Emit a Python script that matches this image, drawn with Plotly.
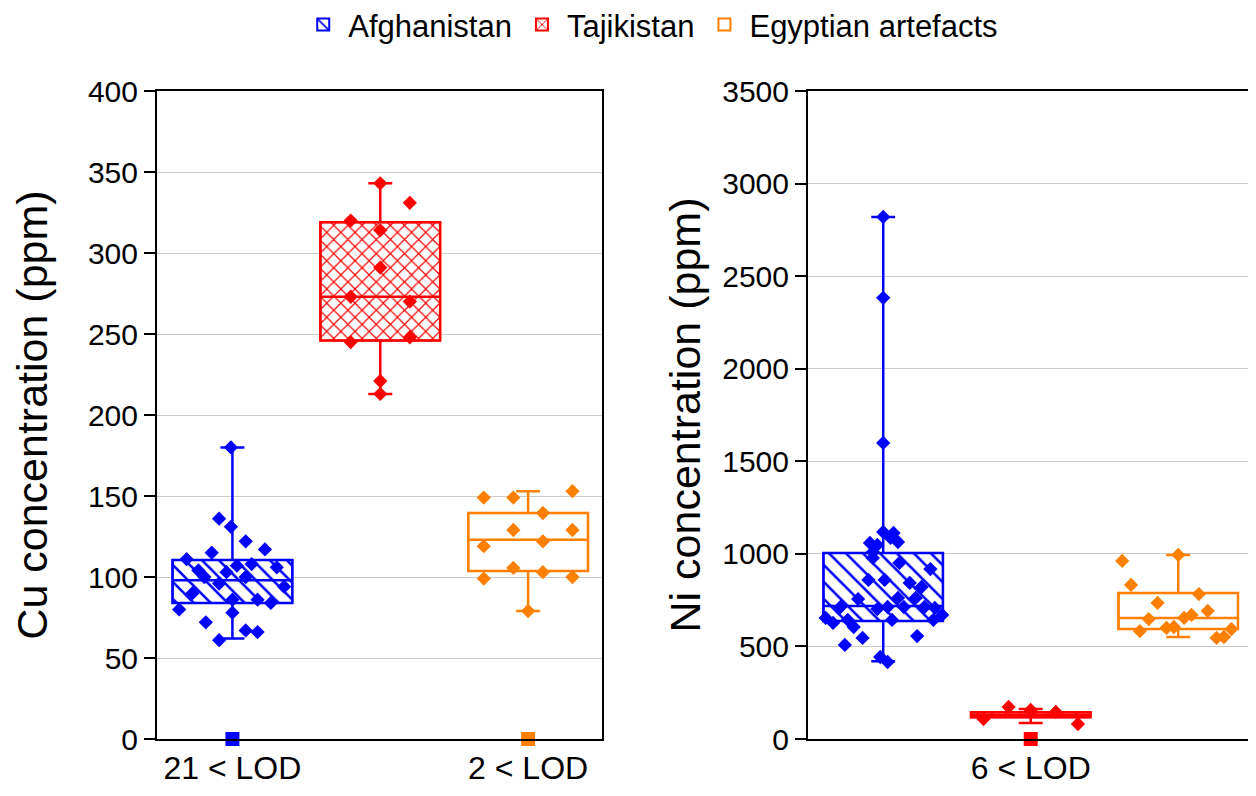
import plotly.graph_objects as go

groups = ["Afghanistan", "Tajikistan", "Egyptian artefacts"]
colors = ["#0000ff", "#ff0000", "#ff7f00"]
patterns = ["\\", "x", ""]
positions = [1, 2, 3]

# box statistics: q1, median, q3, lower whisker, upper whisker
cu_q1 = [84, 246, 103.7]
cu_median = [98, 273, 123]
cu_q3 = [110.5, 319, 139.5]
cu_low = [62, 213, 79]
cu_high = [180, 343, 153]

ni_q1 = [637, 117, 594]
ni_median = [718, 130, 653]
ni_q3 = [1005, 145, 788]
ni_low = [420, 86, 551]
ni_high = [2820, 162, 994]

# individual measurements (x offset from group centre, value)
cu_afg_off = [-0.01, -0.09, -0.01, 0.09, 0.22, -0.14, -0.31, 0.03, 0.13, 0.30, -0.23, -0.04, -0.19,
              0.09, -0.09, 0.35, -0.27, 0.17, 0.26, 0.0, -0.36, 0.0, -0.18, 0.09, 0.17, -0.09]
cu_afg = [180, 136, 131, 122, 117, 115, 111, 107, 108, 106, 104, 103, 100,
          100, 96, 94, 90, 86, 84, 86, 80, 78, 72, 67, 66, 61]
cu_taj_off = [0, 0.2, -0.2, 0, 0, -0.2, 0.2, -0.2, 0.2, 0, 0]
cu_taj = [343, 331, 320, 314, 291, 273, 270, 245, 248, 221, 213]
cu_egy_off = [-0.3, -0.1, 0.3, 0.1, -0.1, 0.3, -0.3, 0.1, -0.1, 0.1, -0.3, 0.3, 0.0]
cu_egy = [149, 149, 153, 139.5, 129, 129, 119, 122, 105.6, 103, 99, 100, 79]

ni_afg_off = [0, 0, 0, 0, 0.07, 0.05, -0.09, -0.04, 0.10, -0.07, -0.07, 0.11, 0.32, -0.10, 0.01,
              0.18, 0.26, -0.17, 0.10, 0.22, -0.29, -0.04, 0.03, 0.14, 0.28, 0.35, -0.39, -0.34,
              -0.24, -0.20, 0.06, 0.34, 0.40, -0.14, 0.23, -0.26, -0.02, 0.03]
ni_afg = [2820, 2383, 1599, 1118, 1113, 1086, 1059, 1048, 1064, 1010, 978, 951, 918, 859, 859,
          843, 821, 756, 762, 762, 713, 702, 713, 713, 713, 708, 654, 627,
          643, 605, 643, 643, 670, 546, 556, 508, 443, 416]
ni_taj_off = [-0.32, -0.15, 0, 0.17, 0.32]
ni_taj = [108, 173, 157, 146, 81]
ni_egy_off = [-0.38, 0, -0.32, 0.14, -0.14, 0.20, -0.20, 0.09, 0.04, -0.08, -0.03, -0.26, 0.26, 0.31, 0.36]
ni_egy = [962, 994, 832, 783, 735, 692, 648, 670, 654, 600, 605, 583, 546, 551, 594]

# samples below limit of detection (plotted at zero)
cu_lod_pos = [1, 3]
cu_lod_colors = [colors[0], colors[2]]
cu_lod_text = ["21 < LOD", "2 < LOD"]
ni_lod_pos = [2]
ni_lod_colors = [colors[1]]
ni_lod_text = ["6 < LOD"]

FONT = "Liberation Sans, Arial, sans-serif"
BOXW = 0.81

fig = go.Figure()


def add_panel(xa, ya, q1, med, q3, low, high, offsets, values, lod_pos, lod_colors, legend):
    # patterned box fill (bars carry the hatch pattern + legend swatch)
    for i, g in enumerate(groups):
        fig.add_trace(go.Bar(
            x=[positions[i]], y=[q3[i] - q1[i]], base=[q1[i]], width=BOXW,
            name=g, showlegend=legend, legendgroup=g,
            marker=dict(color="white", line=dict(color=colors[i], width=2),
                        pattern=dict(shape=patterns[i], fgcolor=colors[i], bgcolor="white",
                                     fgopacity=1, size=10 if i == 1 else 12, solidity=0.22)),
            xaxis=xa, yaxis=ya, hoverinfo="skip",
        ))
    # box outlines with whiskers
    for i, g in enumerate(groups):
        fig.add_trace(go.Box(
            x=[positions[i]], q1=[q1[i]], median=[med[i]], q3=[q3[i]],
            lowerfence=[low[i]], upperfence=[high[i]], width=BOXW,
            fillcolor="rgba(0,0,0,0)", line=dict(color=colors[i], width=2.5),
            whiskerwidth=0.2, boxpoints=False, showlegend=False,
            xaxis=xa, yaxis=ya,
        ))
    # individual points
    for i, g in enumerate(groups):
        fig.add_trace(go.Scatter(
            x=[positions[i] + o for o in offsets[i]], y=values[i], mode="markers",
            marker=dict(symbol="diamond", size=11, color=colors[i]),
            showlegend=False, xaxis=xa, yaxis=ya,
        ))
    fig.add_trace(go.Scatter(
        x=lod_pos, y=[0] * len(lod_pos), mode="markers",
        marker=dict(symbol="square", size=14, color=lod_colors),
        cliponaxis=False, showlegend=False, xaxis=xa, yaxis=ya,
    ))


add_panel("x", "y", cu_q1, cu_median, cu_q3, cu_low, cu_high,
          [cu_afg_off, cu_taj_off, cu_egy_off], [cu_afg, cu_taj, cu_egy],
          cu_lod_pos, cu_lod_colors, True)
add_panel("x2", "y2", ni_q1, ni_median, ni_q3, ni_low, ni_high,
          [ni_afg_off, ni_taj_off, ni_egy_off], [ni_afg, ni_taj, ni_egy],
          ni_lod_pos, ni_lod_colors, False)

xcommon = dict(range=[0.49, 3.5], showline=True, linecolor="black", linewidth=2, mirror=True,
               showgrid=False, zeroline=False, ticks="", tickfont=dict(size=32, color="black"))
ycommon = dict(showline=True, linecolor="black", linewidth=2, mirror=True,
               showgrid=True, gridcolor="#cccccc", gridwidth=1, zeroline=False,
               ticks="outside", ticklen=11, tickwidth=2, tickcolor="black",
               tickfont=dict(size=30, color="black"))

fig.update_layout(
    width=1248, height=788,
    margin=dict(l=0, r=0, t=83, b=57, autoexpand=False),
    paper_bgcolor="white", plot_bgcolor="white",
    font=dict(family=FONT, color="black"),
    barmode="overlay", boxmode="overlay",
    xaxis=dict(domain=[0.1194, 0.4760], tickvals=cu_lod_pos, ticktext=cu_lod_text, **xcommon),
    xaxis2=dict(domain=[0.6410, 0.9968], anchor="y2", tickvals=ni_lod_pos, ticktext=ni_lod_text, **xcommon),
    yaxis=dict(range=[0, 400], dtick=50,
               title=dict(text="Cu concentration (ppm)", font=dict(size=43), standoff=28), **ycommon),
    yaxis2=dict(range=[0, 3500], dtick=500, anchor="x2",
                title=dict(text="Ni concentration (ppm)", font=dict(size=43), standoff=8), **ycommon),
    legend=dict(orientation="h", x=0.515, xanchor="center", y=1.102, yanchor="middle",
                font=dict(size=31), itemwidth=40, traceorder="normal"),
)

fig.write_html("out.html")
